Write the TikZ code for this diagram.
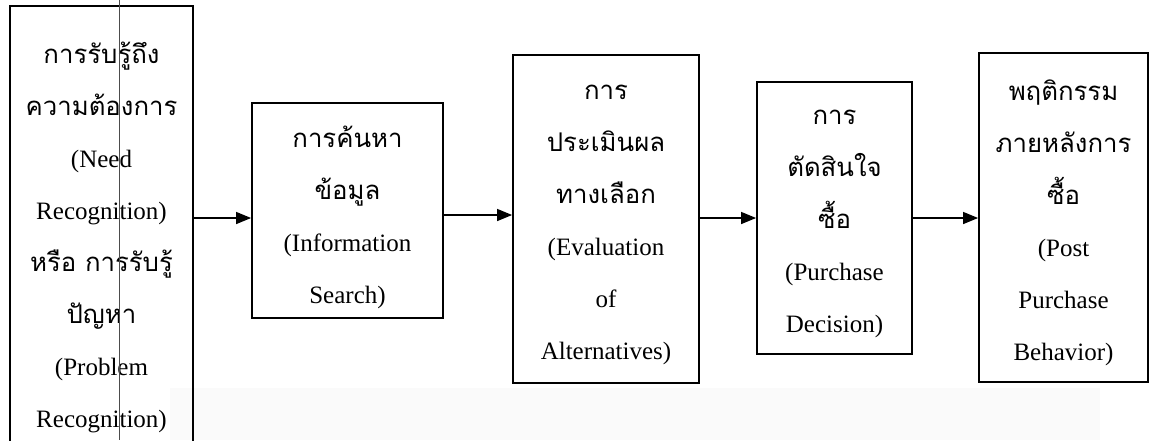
\documentclass[tikz,border=0pt]{standalone}
\usepackage{fontspec}
\setmainfont{Liberation Serif}
\newfontfamily\thai[Script=Thai,Scale=1.03]{Loma}
\usetikzlibrary{arrows.meta}
\tikzset{
  stagebox/.style={draw=black, line width=1.8pt, rectangle, inner sep=0pt},
  stagetext/.style={align=center, inner sep=0pt, font=\fontsize{25}{52}\selectfont},
  flow/.style={line width=1.3pt, -{Triangle[length=15pt,width=12pt]}}
}
\begin{document}
\begin{tikzpicture}[x=1pt,y=-1pt]
\useasboundingbox (0,0) rectangle (1150,440);
\fill[black!2] (170,388) rectangle (1100,440);
\node[stagebox, minimum width=183pt, minimum height=460pt] (s1) at (101.5,236) {};
\node[stagebox, minimum width=191pt, minimum height=215pt] (s2) at (347.5,210.5) {};
\node[stagebox, minimum width=186pt, minimum height=328pt] (s3) at (606,219) {};
\node[stagebox, minimum width=155pt, minimum height=272pt] (s4) at (834.5,218) {};
\node[stagebox, minimum width=169pt, minimum height=329pt] (s5) at (1063.5,217.5) {};
\node[stagetext] (t1) at ([yshift=-1pt]s1.center)
  {{\thai การรับรู้ถึง}\\{\thai ความต้องการ}\\(Need\\Recognition)\\{\thai หรือ การรับรู้}\\{\thai ปัญหา}\\(Problem\\Recognition)};
\node[stagetext] (t2) at ([yshift=-7pt]s2.center)
  {{\thai การค้นหา}\\{\thai ข้อมูล}\\(Information\\Search)};
\node[stagetext] (t3) at ([yshift=-6pt]s3.center)
  {{\thai การ}\\{\thai ประเมินผล}\\{\thai ทางเลือก}\\(Evaluation\\of\\Alternatives)};
\node[stagetext] (t4) at ([yshift=-6pt]s4.center)
  {{\thai การ}\\{\thai ตัดสินใจ}\\{\thai ซื้อ}\\(Purchase\\Decision)};
\node[stagetext] (t5) at ([yshift=-5pt]s5.center)
  {{\thai พฤติกรรม}\\{\thai ภายหลังการ}\\{\thai ซื้อ}\\(Post\\Purchase\\Behavior)};
\coordinate (m) at (119,0);
\coordinate (mb) at (119,440);
\draw[black!70, line width=0.7pt] (m) -- (mb);
\draw[flow] (s1.east |- 0,218) -- (s2.west |- 0,218);
\draw[flow] (s2.east |- 0,215) -- (s3.west |- 0,215);
\draw[flow] (s3.east |- 0,218) -- (s4.west |- 0,218);
\draw[flow] (s4.east |- 0,218) -- (s5.west |- 0,218);
\end{tikzpicture}
\end{document}
